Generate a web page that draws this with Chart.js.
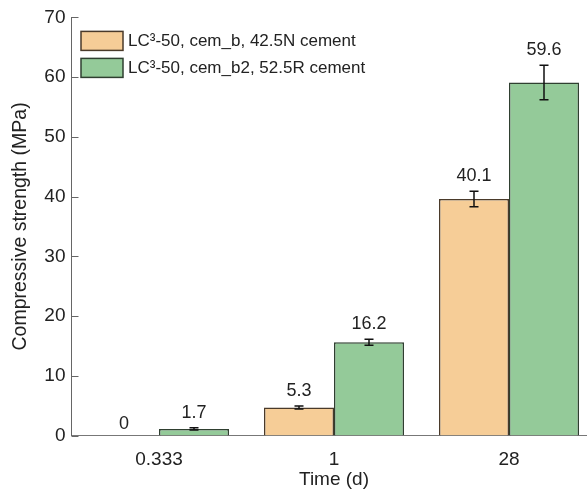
<!DOCTYPE html>
<html>
<head>
<meta charset="utf-8">
<script src="https://cdn.jsdelivr.net/npm/chart.js@4.4.0/dist/chart.umd.min.js"></script>
<style>
  html, body { margin: 0; padding: 0; background: #fff; overflow: hidden; }
</style>
</head>
<body>
<canvas id="chart" width="600" height="491"></canvas>
<script>
// values
const categories = ["0.333", "1", "28"];
const cemB = [0, 4.7, 39.6];
const cemB2 = [1.1, 15.6, 59.1];
const cemBErr = [0, 0.25, 1.3];
const cemB2Err = [0.2, 0.5, 2.9];
const cemBLabels = ["0", "5.3", "40.1"];
const cemB2Labels = ["1.7", "16.2", "59.6"];
const seriesNames = ["LC\u00b3-50, cem_b, 42.5N cement", "LC\u00b3-50, cem_b2, 52.5R cement"];
const yMin = 0, yMax = 70, yStep = 10;

const fills = ["#f6cd97", "#94ca99"];
const borders = ["#4a3a2a", "#2f3f30"];
const errs = [cemBErr, cemB2Err];
const valueLabels = [cemBLabels, cemB2Labels];
const family = '"Liberation Sans", Arial, sans-serif';

Chart.defaults.font.family = family;
Chart.defaults.font.size = 19;
Chart.defaults.color = "#222";

// inward ticks, error bars, value labels and legend
const extras = {
  id: "extras",
  afterDatasetsDraw(chart) {
    const ctx = chart.ctx;
    const y = chart.scales.y;
    const area = chart.chartArea;
    ctx.save();

    ctx.strokeStyle = "#666";
    ctx.lineWidth = 1;
    y.ticks.forEach((t, i) => {
      const py = Math.round(y.getPixelForTick(i)) + 0.5;
      ctx.beginPath();
      ctx.moveTo(area.left, py);
      ctx.lineTo(area.left + 7, py);
      ctx.stroke();
    });

    chart.data.datasets.forEach((ds, di) => {
      const meta = chart.getDatasetMeta(di);
      meta.data.forEach((bar, i) => {
        const v = ds.data[i];
        const e = errs[di][i];
        const x = bar.x;
        let top = y.getPixelForValue(v);
        if (e > 0) {
          const hi = y.getPixelForValue(v + e);
          const lo = y.getPixelForValue(v - e);
          ctx.strokeStyle = "#111";
          ctx.lineWidth = 1.5;
          ctx.beginPath();
          ctx.moveTo(x, hi); ctx.lineTo(x, lo);
          ctx.moveTo(x - 4.5, hi); ctx.lineTo(x + 4.5, hi);
          ctx.moveTo(x - 4.5, lo); ctx.lineTo(x + 4.5, lo);
          ctx.stroke();
          top = hi;
        }
        ctx.fillStyle = "#222";
        ctx.font = "18px " + family;
        ctx.textAlign = "center";
        ctx.textBaseline = "middle";
        ctx.fillText(valueLabels[di][i], x, top - (e > 0 ? 15 : 11.5));
      });
    });

    // legend
    ctx.font = "17px " + family;
    ctx.textAlign = "left";
    ctx.textBaseline = "middle";
    seriesNames.forEach((name, i) => {
      const bx = area.left + 9.5;
      const by = area.top + 14 + i * 27;
      ctx.fillStyle = fills[i];
      ctx.fillRect(bx, by, 42, 19);
      ctx.strokeStyle = borders[i];
      ctx.lineWidth = 1.5;
      ctx.strokeRect(bx, by, 42, 19);
      ctx.fillStyle = "#222";
      ctx.fillText(name, bx + 47, by + 10);
    });

    ctx.restore();
  }
};

new Chart(document.getElementById("chart"), {
  type: "bar",
  data: {
    labels: categories,
    datasets: [
      {
        label: seriesNames[0],
        data: cemB,
        backgroundColor: fills[0],
        borderColor: borders[0],
        borderWidth: 1.5,
      },
      {
        label: seriesNames[1],
        data: cemB2,
        backgroundColor: fills[1],
        borderColor: borders[1],
        borderWidth: 1.5,
      },
    ],
  },
  options: {
    responsive: false,
    animation: false,
    layout: { padding: { left: 0, top: 16, right: 3.5, bottom: 0 } },
    datasets: {
      bar: { barPercentage: 1, categoryPercentage: 0.8, borderSkipped: "bottom" },
    },
    plugins: {
      legend: { display: false },
      tooltip: { enabled: false },
    },
    scales: {
      x: {
        grid: { display: false, drawTicks: false },
        border: { display: true, color: "#777", width: 1 },
        ticks: { padding: 13 },
        title: { display: true, text: "Time (d)", padding: { top: 0, bottom: 0 } },
        afterFit: (s) => { s.height = 55.5; },
      },
      y: {
        min: yMin,
        max: yMax,
        grid: { display: false, drawTicks: false },
        border: { display: true, color: "#666", width: 1 },
        ticks: { stepSize: yStep, padding: 6 },
        title: {
          display: true,
          text: "Compressive strength (MPa)",
          font: { size: 19.5 },
          padding: { top: 9, bottom: 0 },
        },
        afterFit: (s) => { s.width = 71.5; },
      },
    },
  },
  plugins: [extras],
});
</script>
</body>
</html>
